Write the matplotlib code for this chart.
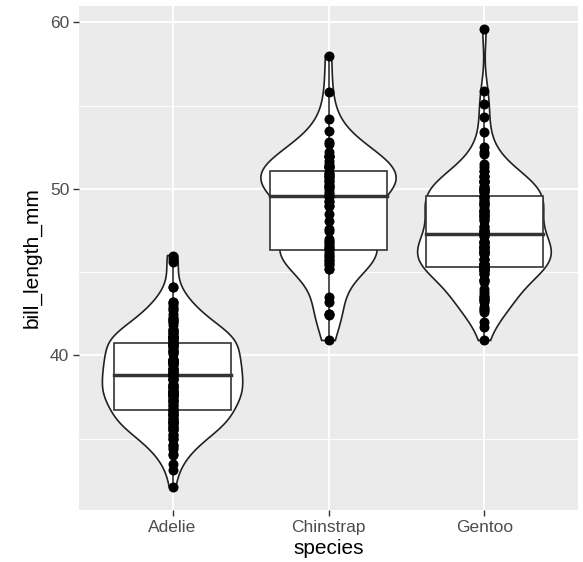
import numpy as np
import matplotlib.pyplot as plt
from matplotlib.patches import Rectangle

plt.rcParams['font.family'] = ['Liberation Sans', 'DejaVu Sans']

# bill lengths (mm) per species
species = ['Adelie', 'Chinstrap', 'Gentoo']

adelie = [39.1, 39.5, 40.3, 36.7, 39.3, 38.9, 39.2, 34.1, 42.0, 37.8, 37.8, 41.1, 38.6,
          34.6, 36.6, 38.7, 42.5, 34.4, 46.0, 37.8, 37.7, 35.9, 38.2, 38.8, 35.3, 40.6,
          40.5, 37.9, 40.5, 39.5, 37.2, 39.5, 40.9, 36.4, 39.2, 38.8, 42.2, 37.6, 39.8,
          36.5, 40.8, 36.0, 44.1, 37.0, 39.6, 41.1, 37.5, 36.0, 42.3, 39.6, 40.1, 35.0,
          42.0, 34.5, 41.4, 39.0, 40.6, 36.5, 37.6, 35.7, 41.3, 37.6, 41.1, 36.4, 41.6,
          35.5, 41.1, 35.9, 41.8, 33.5, 39.7, 39.6, 45.8, 35.5, 42.8, 40.9, 37.2, 36.2,
          42.1, 34.6, 42.9, 36.7, 35.1, 37.3, 41.3, 36.3, 36.9, 38.3, 38.9, 35.7, 41.1,
          34.0, 39.6, 36.2, 40.8, 38.1, 40.3, 33.1, 43.2, 35.0, 41.0, 37.7, 37.8, 37.9,
          39.7, 38.6, 38.2, 38.1, 43.2, 38.1, 45.6, 39.7, 42.2, 39.6, 42.7, 38.6, 37.3,
          35.7, 41.1, 36.2, 37.7, 40.2, 41.4, 35.2, 40.6, 38.8, 41.5, 39.0, 44.1, 38.5,
          43.1, 36.8, 37.5, 38.1, 41.1, 35.6, 40.2, 37.0, 39.7, 40.2, 40.6, 32.1, 40.7,
          37.3, 39.0, 39.2, 36.6, 36.0, 37.8, 36.0, 41.5]

chinstrap = [46.5, 50.0, 51.3, 45.4, 52.7, 45.2, 46.1, 51.3, 46.0, 51.3, 46.6, 51.7,
             47.0, 52.0, 45.9, 50.5, 50.3, 58.0, 46.4, 49.2, 42.4, 48.5, 43.2, 50.6,
             46.7, 52.0, 50.5, 49.5, 46.4, 52.8, 40.9, 54.2, 42.5, 51.0, 49.7, 47.5,
             47.6, 52.0, 46.9, 53.5, 49.0, 46.2, 50.9, 45.5, 50.9, 50.8, 50.1, 49.0,
             51.5, 49.8, 48.1, 51.4, 45.7, 50.7, 42.5, 52.2, 45.2, 49.3, 50.2, 45.6,
             51.9, 46.8, 45.7, 55.8, 43.5, 49.6, 50.8, 50.2]

gentoo = [46.1, 50.0, 48.7, 50.0, 47.6, 46.5, 45.4, 46.7, 43.3, 46.8, 40.9, 49.0, 45.5,
          48.4, 45.8, 49.3, 42.0, 49.2, 46.2, 48.7, 50.2, 45.1, 46.5, 46.3, 42.9, 46.1,
          44.5, 47.8, 48.2, 50.0, 47.3, 42.8, 45.1, 59.6, 49.1, 48.4, 42.6, 44.4, 44.0,
          48.7, 42.7, 49.6, 45.3, 49.6, 50.5, 43.6, 45.5, 50.5, 44.9, 45.2, 46.6, 48.5,
          45.1, 50.1, 46.5, 45.0, 43.8, 45.5, 43.2, 50.4, 45.3, 46.2, 45.7, 54.3, 45.8,
          49.8, 46.2, 49.5, 43.5, 50.7, 47.7, 46.4, 48.2, 46.5, 46.4, 48.6, 47.5, 51.1,
          45.2, 45.2, 49.1, 52.5, 47.4, 50.0, 44.9, 50.8, 43.4, 51.3, 47.5, 52.1, 47.5,
          52.2, 45.5, 49.5, 44.5, 50.8, 49.4, 46.9, 48.4, 51.1, 48.5, 55.9, 47.2, 49.1,
          47.3, 46.8, 41.7, 53.4, 43.3, 48.1, 50.5, 49.8, 43.5, 51.5, 46.2, 55.1, 44.5,
          48.8, 47.2, 46.8, 50.4, 45.2, 49.9]

groups = [np.array(adelie), np.array(chinstrap), np.array(gentoo)]


def density(v, n=512):
    # gaussian kde with R's nrd0 bandwidth, trimmed to data range
    sd = v.std(ddof=1)
    iqr = np.subtract(*np.percentile(v, [75, 25]))
    bw = 0.9 * min(sd, iqr / 1.34) * len(v) ** -0.2
    y = np.linspace(v.min(), v.max(), n)
    d = np.exp(-0.5 * ((y[:, None] - v[None, :]) / bw) ** 2).sum(axis=1)
    d /= len(v) * bw * np.sqrt(2 * np.pi)
    return y, d


dens = [density(v) for v in groups]
dmax = max(d.max() for _, d in dens)

fig = plt.figure(figsize=(5.83, 5.62), dpi=100)
ax = fig.add_axes([79 / 583, 52 / 562, 499 / 583, 504 / 562])
ax.set_facecolor('#EBEBEB')

for i, ((y, d), v) in enumerate(zip(dens, groups)):
    x = i + 1
    w = d / dmax * 0.45
    xs = np.concatenate([x - w, (x + w)[::-1]])
    ys = np.concatenate([y, y[::-1]])
    ax.fill(xs, ys, facecolor='white', edgecolor='#222222', lw=1.2, zorder=2)

    q1, med, q3 = np.percentile(v, [25, 50, 75])
    iqr = q3 - q1
    lo = v[v >= q1 - 1.5 * iqr].min()
    hi = v[v <= q3 + 1.5 * iqr].max()
    ax.plot([x, x], [q3, hi], color='#333333', lw=1.2, zorder=3)
    ax.plot([x, x], [lo, q1], color='#333333', lw=1.2, zorder=3)
    ax.add_patch(Rectangle((x - 0.375, q1), 0.75, iqr, facecolor='white',
                           edgecolor='#333333', lw=1.2, zorder=3))
    ax.plot([x - 0.375, x + 0.375], [med, med], color='#333333', lw=2.5, zorder=4)

    ax.plot(np.full(len(v), x), v, 'o', color='black', ms=7.2, mew=0, zorder=5)

ymin = min(v.min() for v in groups)
ymax = max(v.max() for v in groups)
pad = (ymax - ymin) * 0.05
ax.set_ylim(ymin - pad, ymax + pad)
ax.set_xlim(0.4, 3.6)

ax.set_xticks([1, 2, 3])
ax.set_xticklabels(species)
ax.set_yticks([40, 50, 60])
ax.set_yticks([35, 45, 55], minor=True)
ax.grid(which='major', color='white', lw=1.3, zorder=0)
ax.grid(which='minor', axis='y', color='white', lw=0.65, zorder=0)
ax.set_axisbelow(True)
for s in ax.spines.values():
    s.set_visible(False)
ax.tick_params(axis='both', which='major', length=4, width=1, color='#333333',
               labelcolor='#4D4D4D', labelsize=12.5, pad=3)
ax.tick_params(axis='y', which='minor', length=0)

ax.set_xlabel('species', fontsize=15, color='black', labelpad=3)
ax.set_ylabel('bill_length_mm', fontsize=15, color='black', labelpad=6)

fig.savefig('out.png', dpi=100)
